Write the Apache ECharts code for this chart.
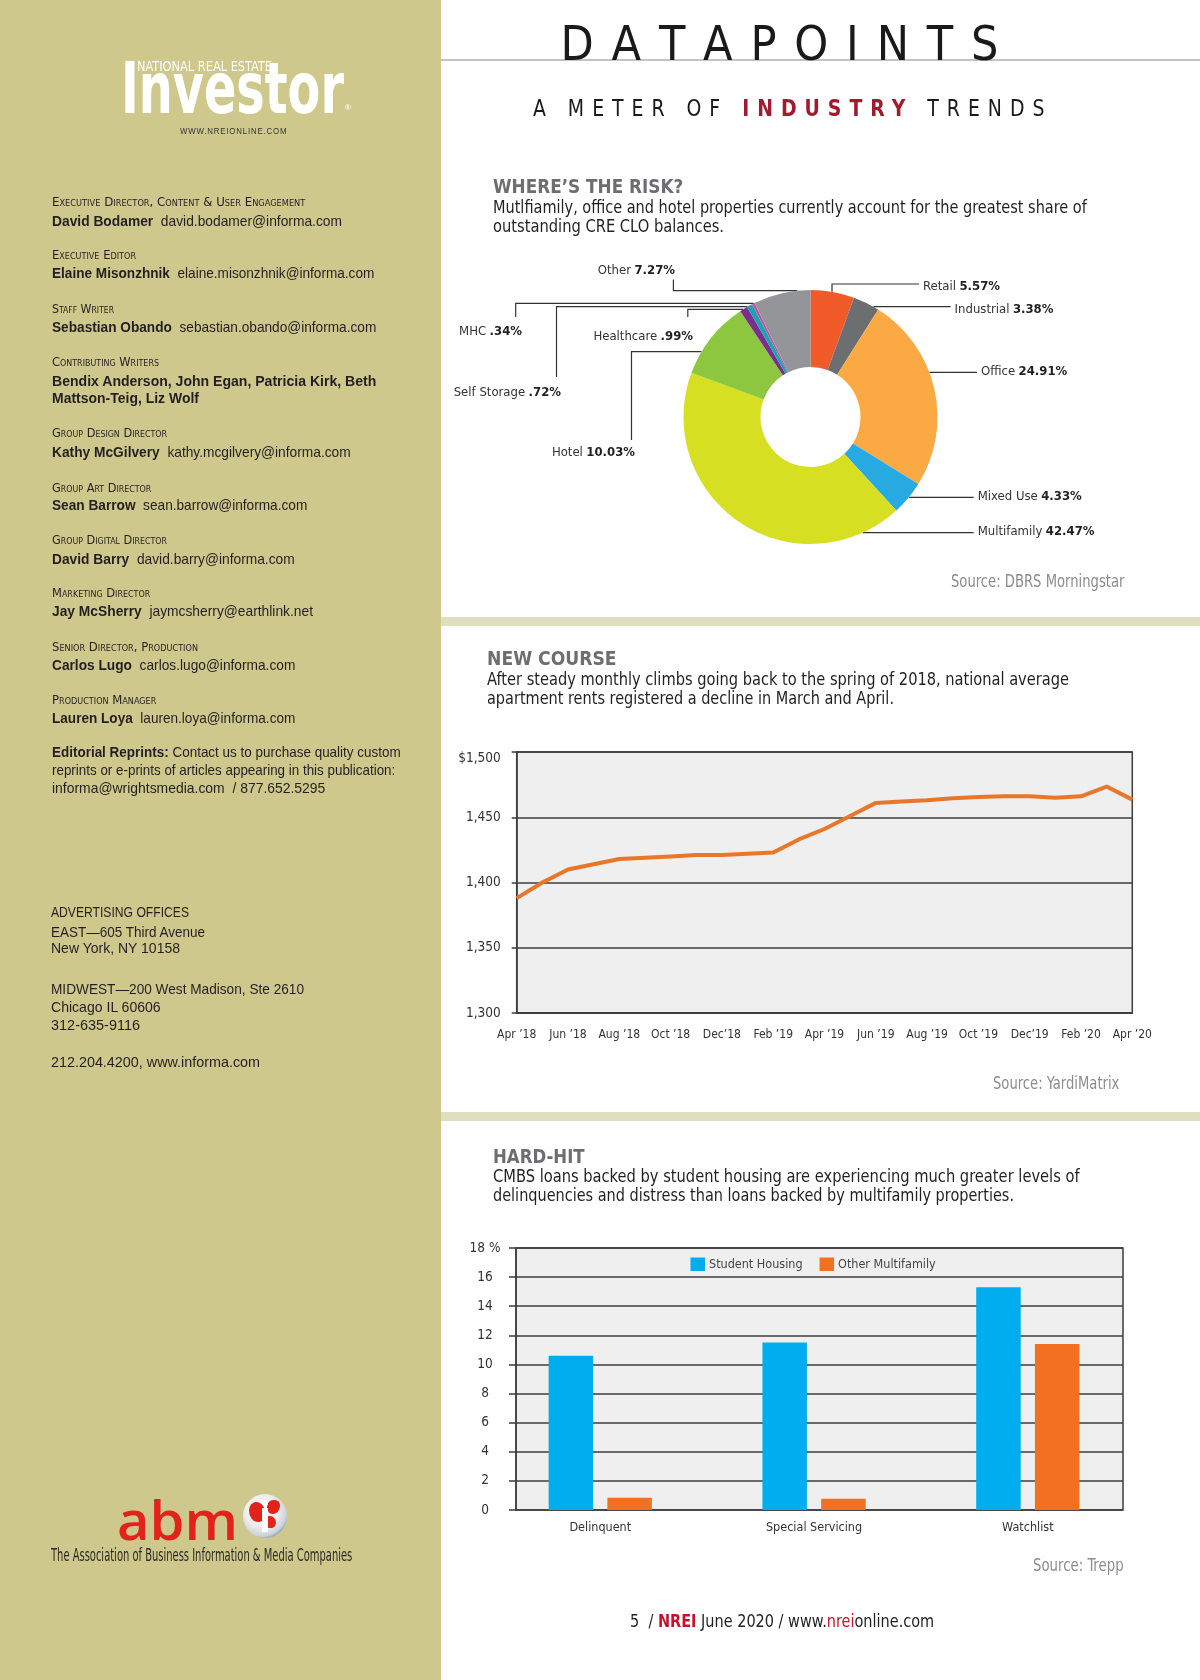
<!DOCTYPE html>
<html><head><meta charset="utf-8">
<script src="https://cdn.jsdelivr.net/npm/echarts@6/dist/echarts.min.js"></script>
<style>
html,body{margin:0;padding:0;background:#fff;}
#page{position:relative;width:1200px;height:1680px;overflow:hidden;background:#fff;}
#leftbg{position:absolute;left:0;top:0;width:441px;height:1680px;background:#CFC88D;}
.band{position:absolute;left:441px;width:759px;height:9px;background:#E1DEBF;}
#hline{position:absolute;left:441px;top:59px;width:759px;height:2px;background:#C4C4C4;}
#chart{position:absolute;left:0;top:0;width:1200px;height:1680px;z-index:1;}
#layer{position:absolute;left:0;top:0;width:1200px;height:1680px;z-index:2;pointer-events:none;}
.txt{position:absolute;white-space:nowrap;transform-origin:0 50%;color:#231F20;}
.n{font-family:"Liberation Sans Narrow","DejaVu Sans Condensed","Liberation Sans",sans-serif;}
.s{font-family:"Liberation Sans",Arial,sans-serif;}
.sc{font-variant:small-caps;}
#dp{position:absolute;left:560.5px;top:18.5px;width:438px;display:flex;justify-content:space-between;font-size:48px;line-height:48px;color:#1a1a1a;}
#globe{position:absolute;left:243px;top:1494px;width:44px;height:44px;border-radius:50%;overflow:hidden;
 background:radial-gradient(circle at 42% 38%, #ffffff 0, #ececec 45%, #c9d2d8 68%, #5f8ba3 80%, #3f6f8a 100%);}
#globe .c1{position:absolute;left:6px;top:8px;width:16px;height:20px;border-radius:45% 55% 40% 60%;background:#e2231a;}
#globe .c2{position:absolute;left:24px;top:6px;width:13px;height:14px;border-radius:50% 40% 60% 45%;background:#e2231a;}
#globe .c3{position:absolute;left:22px;top:22px;width:11px;height:12px;border-radius:40% 60% 50% 50%;background:#e2231a;}
#globe .bar{position:absolute;left:19px;top:14px;width:6px;height:24px;background:#fff;}
#globe .dot{position:absolute;left:19px;top:6px;width:6px;height:6px;border-radius:50%;background:#fff;}
</style></head>
<body>
<div id="page">
  <div id="leftbg"></div>
  <div class="band" style="top:617px"></div>
  <div class="band" style="top:1112px"></div>
  <div id="hline"></div>
  <div id="chart"></div>
  <div id="layer">
    <div id="dp" class="n"><span>D</span><span>A</span><span>T</span><span>A</span><span>P</span><span>O</span><span>I</span><span>N</span><span>T</span><span>S</span></div>
    <div id="globe"><div class="c1"></div><div class="c2"></div><div class="c3"></div><div class="bar"></div><div class="dot"></div></div>
  </div>
</div>
<script>
// ---------------- DATA ----------------
const pieCategories = ['Retail','Industrial','Office','Mixed Use','Multifamily','Hotel','Healthcare','Self Storage','MHC','Other'];
const pieValues = [5.57, 3.38, 24.91, 4.33, 42.47, 10.03, 0.99, 0.72, 0.34, 7.27];

const rentMonths = ['Apr ’18','May ’18','Jun ’18','Jul ’18','Aug ’18','Sep ’18','Oct ’18','Nov ’18','Dec’18','Jan ’19','Feb ’19','Mar ’19','Apr ’19','May ’19','Jun ’19','Jul ’19','Aug ’19','Sep ’19','Oct ’19','Nov ’19','Dec’19','Jan ’20','Feb ’20','Mar ’20','Apr ’20'];
const rentValues = [1388, 1400, 1410, 1414, 1418, 1419, 1420, 1421, 1421, 1422, 1423, 1433, 1441, 1451, 1461, 1462, 1463, 1464.5, 1465.5, 1466, 1466, 1465, 1466, 1473.5, 1463.5];
const rentTickValues = [1300, 1350, 1400, 1450, 1500];
const rentTickLabels = ['1,300', '1,350', '1,400', '1,450', '$1,500'];

const loanCategories = ['Delinquent', 'Special Servicing', 'Watchlist'];
const studentHousing = [10.6, 11.5, 15.3];
const otherMultifamily = [0.85, 0.78, 11.4];
const loanTickValues = [0, 2, 4, 6, 8, 10, 12, 14, 16, 18];
const loanTickLabels = ['0', '2', '4', '6', '8', '10', '12', '14', '16', '18 %'];

// ---------------- STYLE / LAYOUT ----------------
const NARROW = '"Liberation Sans Narrow","DejaVu Sans Condensed","Liberation Sans",sans-serif';
const pieColors = ['#F15A29','#6D6E71','#FBAA43','#27AAE1','#D7DF23','#8DC63F','#7D2E8C','#1CA3B6','#C055A0','#939598'];
const PIE_C = [810.5, 417], PIE_R = [50, 127];
const pieLabelPlacement = {
  'Retail':       {tx: 923,   ty: 286.5, side: 1,  hy: 284,   vx: 832},
  'Industrial':   {tx: 954.6, ty: 309.5, side: 1,  hy: 306.7},
  'Office':       {tx: 981,   ty: 371.5, side: 1,  hy: 372.3},
  'Mixed Use':    {tx: 977.7, ty: 496.5, side: 1,  hy: 497.3},
  'Multifamily':  {tx: 977.7, ty: 532,   side: 1,  hy: 532.7},
  'Hotel':        {tx: 635,   ty: 453,   side: -1, hy: 351.7, vx: 631.5, vy: 440},
  'Healthcare':   {tx: 693,   ty: 337,   side: -1, hy: 309.3, vx: 687.8, vy: 317},
  'Self Storage': {tx: 561,   ty: 392.5, side: -1, hy: 306.7, vx: 556.5, vy: 377},
  'MHC':          {tx: 522,   ty: 331.5, side: -1, hy: 303.3, vx: 515.7, vy: 317},
  'Other':        {tx: 675,   ty: 271,   side: -1, hy: 290.7, vx: 673.4, vy: 279.5}
};
function edgeX(y, side) { const dy = y - PIE_C[1]; return PIE_C[0] + side * Math.sqrt(Math.max(0, PIE_R[1]*PIE_R[1] - dy*dy)); }
function edgeY(x) { const dx = x - PIE_C[0]; return PIE_C[1] - Math.sqrt(Math.max(0, PIE_R[1]*PIE_R[1] - dx*dx)); }
function pct(v) { const s = v.toFixed(2); return (v < 1 ? s.replace(/^0/, '') : s) + '%'; }

// ---------------- HTML TEXT ----------------
const texts = [
  {h:'NATIONAL REAL ESTATE', x:136.7, y:66.7, f:13.5, w:135, c:'n', st:'color:#fff'},
  {h:'Investor', x:120.7, y:88.7, f:71, w:223, c:'n', st:'color:#fff;font-weight:bold'},
  {h:'®', x:345, y:107.5, f:8, c:'s', st:'color:#fff'},
  {h:'WWW.NREIONLINE.COM', x:180, y:131, f:9.5, w:107.3, c:'s', st:'color:#333;letter-spacing:1px'},

  {h:'Executive Director, Content &amp; User Engagement', x:51.7, y:202.7, f:11.5, w:253.3, c:'n sc'},
  {h:'<b>David Bodamer</b>&nbsp;&nbsp;david.bodamer@informa.com', x:51.7, y:220, f:15, w:290, c:'s'},
  {h:'Executive Editor', x:51.7, y:256, f:11.5, w:84, c:'n sc'},
  {h:'<b>Elaine Misonzhnik</b>&nbsp;&nbsp;elaine.misonzhnik@informa.com', x:51.7, y:272.7, f:15, w:322.3, c:'s'},
  {h:'Staff Writer', x:52.3, y:310, f:11.5, w:62, c:'n sc'},
  {h:'<b>Sebastian Obando</b>&nbsp;&nbsp;sebastian.obando@informa.com', x:52.3, y:326.7, f:15, w:324.3, c:'s'},
  {h:'Contributing Writers', x:52.3, y:362.7, f:11.5, w:107, c:'n sc'},
  {h:'<b>Bendix Anderson, John Egan, Patricia Kirk, Beth</b>', x:52.3, y:380, f:15, w:324.3, c:'s'},
  {h:'<b>Mattson-Teig, Liz Wolf</b>', x:52.3, y:397.7, f:15, w:147, c:'s'},
  {h:'Group Design Director', x:52.3, y:434, f:11.5, w:115, c:'n sc'},
  {h:'<b>Kathy McGilvery</b>&nbsp;&nbsp;kathy.mcgilvery@informa.com', x:52.3, y:451, f:15, w:298.7, c:'s'},
  {h:'Group Art Director', x:52.3, y:488.3, f:11.5, w:99.3, c:'n sc'},
  {h:'<b>Sean Barrow</b>&nbsp;&nbsp;sean.barrow@informa.com', x:52.3, y:504, f:15, w:255.3, c:'s'},
  {h:'Group Digital Director', x:52.3, y:540.7, f:11.5, w:115, c:'n sc'},
  {h:'<b>David Barry</b>&nbsp;&nbsp;david.barry@informa.com', x:52.3, y:558, f:15, w:242.7, c:'s'},
  {h:'Marketing Director', x:52.3, y:594, f:11.5, w:98.3, c:'n sc'},
  {h:'<b>Jay McSherry</b>&nbsp;&nbsp;jaymcsherry@earthlink.net', x:52.3, y:610.7, f:15, w:261, c:'s'},
  {h:'Senior Director, Production', x:52.3, y:648, f:11.5, w:146, c:'n sc'},
  {h:'<b>Carlos Lugo</b>&nbsp;&nbsp;carlos.lugo@informa.com', x:52.3, y:664, f:15, w:243.3, c:'s'},
  {h:'Production Manager', x:52.3, y:700.7, f:11.5, w:104.3, c:'n sc'},
  {h:'<b>Lauren Loya</b>&nbsp;&nbsp;lauren.loya@informa.com', x:52.3, y:717.7, f:15, w:243.3, c:'s'},
  {h:'<b>Editorial Reprints:</b> Contact us to purchase quality custom', x:52.3, y:752.7, f:14.5, w:348.7, c:'s'},
  {h:'reprints or e-prints of articles appearing in this publication:', x:52.3, y:770.7, f:14.5, w:343.3, c:'s'},
  {h:'informa@wrightsmedia.com&nbsp;&nbsp;/ 877.652.5295', x:52.3, y:788.7, f:14.5, w:273.3, c:'s'},

  {h:'ADVERTISING OFFICES', x:51, y:911.7, f:15, w:138, c:'s'},
  {h:'EAST—605 Third Avenue', x:51, y:931.7, f:15, w:154, c:'s'},
  {h:'New York, NY 10158', x:51, y:947.7, f:15, w:129, c:'s'},
  {h:'MIDWEST—200 West Madison, Ste 2610', x:51, y:988.3, f:15, w:253, c:'s'},
  {h:'Chicago IL 60606', x:51, y:1006.7, f:15, w:109.7, c:'s'},
  {h:'312-635-9116', x:51, y:1024, f:15, w:89, c:'s'},
  {h:'212.204.4200, www.informa.com', x:51, y:1061.7, f:15, w:209, c:'s'},

  {h:'abm', x:116.7, y:1519.3, f:54, w:121, c:'', st:'color:#E2231A;font-family:"Open Sans","Liberation Sans",sans-serif;font-weight:600'},
  {h:'The Association of Business Information &amp; Media Companies', x:51, y:1555, f:17, w:301.3, c:'n', st:'color:#2a2a20'},

  // right side
  {h:'A METER OF <b style="color:#A11A2E">INDUSTRY</b> TREND<span style="letter-spacing:0">S</span>', x:533, y:108.3, f:23, w:511.4, c:'n', st:'letter-spacing:0.38em;color:#1a1a1a'},
  {h:'WHERE’S THE RISK?', x:493, y:186.7, f:19, w:190.3, c:'n', st:'font-weight:bold;color:#6D6E71'},
  {h:'Mutlfiamily, office and hotel properties currently account for the greatest share of', x:493, y:207.3, f:17.5, w:593.8, c:'n'},
  {h:'outstanding CRE CLO balances.', x:493, y:226.7, f:17.5, w:231, c:'n'},
  {h:'Source: DBRS Morningstar', x:950.5, y:581.7, f:17, w:173.4, c:'n', st:'color:#8C8C8C'},

  {h:'NEW COURSE', x:487.4, y:658.3, f:19, w:129.6, c:'n', st:'font-weight:bold;color:#6D6E71'},
  {h:'After steady monthly climbs going back to the spring of 2018, national average', x:487.4, y:679.3, f:17.5, w:582, c:'n'},
  {h:'apartment rents registered a decline in March and April.', x:487.4, y:698.3, f:17.5, w:407, c:'n'},
  {h:'Source: YardiMatrix', x:993.2, y:1083.2, f:17, w:126.4, c:'n', st:'color:#8C8C8C'},

  {h:'HARD-HIT', x:493, y:1156, f:19, w:91.6, c:'n', st:'font-weight:bold;color:#6D6E71'},
  {h:'CMBS loans backed by student housing are experiencing much greater levels of', x:493, y:1176.7, f:17.5, w:586.6, c:'n'},
  {h:'delinquencies and distress than loans backed by multifamily properties.', x:493, y:1195.7, f:17.5, w:521, c:'n'},
  {h:'Source: Trepp', x:1033.3, y:1565, f:17, w:90.6, c:'n', st:'color:#8C8C8C'},

  {h:'5&nbsp;&nbsp;/ <b style="color:#C8102E">NREI</b> June 2020 / www.<span style="color:#C8102E">nrei</span>online.com', x:630.4, y:1621, f:17, w:304.2, c:'n'}
];
const layer = document.getElementById('layer');
texts.forEach(t => {
  const d = document.createElement('div');
  d.className = 'txt ' + t.c;
  d.innerHTML = t.h;
  d.style.cssText += ';left:' + t.x + 'px;top:' + (t.y - t.f/2) + 'px;font-size:' + t.f + 'px;line-height:' + t.f + 'px;' + (t.st || '');
  layer.appendChild(d);
  if (t.w) {
    const w = d.getBoundingClientRect().width;
    if (w > 0) d.style.transform = 'scaleX(' + (t.w / w) + ')';
  }
});

// ---------------- CHART ----------------
const chart = echarts.init(document.getElementById('chart'), null, {renderer: 'canvas'});
const axisDark = '#3d3d3d';
const option = {
  animation: false,
  textStyle: {fontFamily: NARROW},
  grid: [
    {left: 516.7, top: 752, width: 615.6, height: 261, show: true, backgroundColor: '#EFEFEF', borderColor: axisDark, borderWidth: 1.5},
    {left: 516, top: 1248, width: 607, height: 262, show: true, backgroundColor: '#EFEFEF', borderColor: axisDark, borderWidth: 1.5},
    {left: 493.4, top: 1248, width: 641.3, height: 262, show: false}
  ],
  xAxis: [
    {gridIndex: 0, type: 'category', data: rentMonths, boundaryGap: false,
     axisLine: {lineStyle: {color: axisDark, width: 1.5}}, axisTick: {show: false},
     axisLabel: {interval: 1, color: '#333', fontSize: 12, margin: 16, fontFamily: NARROW}},
    {gridIndex: 1, type: 'category', data: loanCategories, show: false},
    {gridIndex: 2, type: 'category', data: loanCategories,
     axisLine: {show: false}, axisTick: {show: false},
     axisLabel: {color: '#333', fontSize: 12.5, margin: 11, fontFamily: NARROW}}
  ],
  yAxis: [
    {gridIndex: 0, type: 'value', min: 1300, max: 1500, interval: 50,
     axisLine: {show: true, lineStyle: {color: axisDark, width: 1.5}},
     axisTick: {show: true, length: 5, lineStyle: {color: axisDark, width: 1.5}},
     splitLine: {show: true, lineStyle: {color: axisDark, width: 1.5}},
     axisLabel: {color: '#333', fontSize: 13.5, margin: 16, fontFamily: NARROW,
       formatter: v => {
         const s = rentTickLabels[rentTickValues.indexOf(v)];
         return v === rentTickValues[rentTickValues.length - 1] ? '{t|' + s + '}' : s;
       },
       rich: {t: {fontSize: 13.5, color: '#333', fontFamily: NARROW, padding: [12, 0, 0, 0]}}}},
    {gridIndex: 1, type: 'value', min: 0, max: 18, interval: 2,
     axisLine: {show: true, lineStyle: {color: axisDark, width: 1.5}},
     axisTick: {show: true, length: 7, lineStyle: {color: axisDark, width: 1.5}},
     splitLine: {show: true, lineStyle: {color: axisDark, width: 1.5}},
     axisLabel: {color: '#333', fontSize: 13.5, margin: 31, align: 'center', fontFamily: NARROW,
       formatter: v => loanTickLabels[loanTickValues.indexOf(v)]}},
    {gridIndex: 2, type: 'value', min: 0, max: 18, show: false, splitLine: {show: false}}
  ],
  legend: {
    data: ['Student Housing', 'Other Multifamily'],
    left: 690.5, top: 1257.5, padding: 0, itemWidth: 14.5, itemHeight: 13.5, itemGap: 17,
    icon: 'rect', textStyle: {fontSize: 12.5, color: '#444', fontFamily: NARROW, padding: [0, 0, 0, -1]}
  },
  series: [
    {
      type: 'pie', center: PIE_C, radius: PIE_R, startAngle: 90, clockwise: true, silent: true,
      avoidLabelOverlap: false,
      data: pieCategories.map((n, i) => ({name: n, value: pieValues[i], itemStyle: {color: pieColors[i]}})),
      label: {
        show: true, position: 'outside',
        formatter: p => '{n|' + p.name + '} {v|' + pct(p.value) + '}',
        rich: {
          n: {fontFamily: NARROW, fontSize: 13, color: '#333'},
          v: {fontFamily: NARROW, fontSize: 13, fontWeight: 'bold', color: '#231F20'}
        }
      },
      labelLine: {show: true, smooth: false, lineStyle: {color: '#333', width: 1.2}},
      labelLayout: function (params) {
        const cfg = pieLabelPlacement[pieCategories[params.dataIndex]];
        let pts;
        if (cfg.side > 0) {
          const endX = cfg.tx - 4;
          if (cfg.vx != null) {
            pts = [[cfg.vx, edgeY(cfg.vx)], [cfg.vx, cfg.hy], [endX, cfg.hy]];
          } else {
            const sx = edgeX(cfg.hy, 1);
            pts = [[sx, cfg.hy], [(sx + endX) / 2, cfg.hy], [endX, cfg.hy]];
          }
          return {x: cfg.tx, y: cfg.ty, align: 'left', verticalAlign: 'middle', labelLinePoints: pts};
        }
        pts = [[edgeX(cfg.hy, -1), cfg.hy], [cfg.vx, cfg.hy], [cfg.vx, cfg.vy]];
        return {x: cfg.tx, y: cfg.ty, align: 'right', verticalAlign: 'middle', labelLinePoints: pts};
      }
    },
    {
      type: 'line', xAxisIndex: 0, yAxisIndex: 0, data: rentValues, symbol: 'none', silent: true,
      lineStyle: {color: '#E8772A', width: 4}, itemStyle: {color: '#E8772A'}
    },
    {
      name: 'Student Housing', type: 'bar', xAxisIndex: 2, yAxisIndex: 2, data: studentHousing,
      barWidth: 44.5, barGap: '32%', itemStyle: {color: '#00AEEF'}, silent: true
    },
    {
      name: 'Other Multifamily', type: 'bar', xAxisIndex: 2, yAxisIndex: 2, data: otherMultifamily,
      barWidth: 44.5, barGap: '32%', itemStyle: {color: '#F37021'}, silent: true
    }
  ]
};
chart.setOption(option);
</script>
</body></html>
